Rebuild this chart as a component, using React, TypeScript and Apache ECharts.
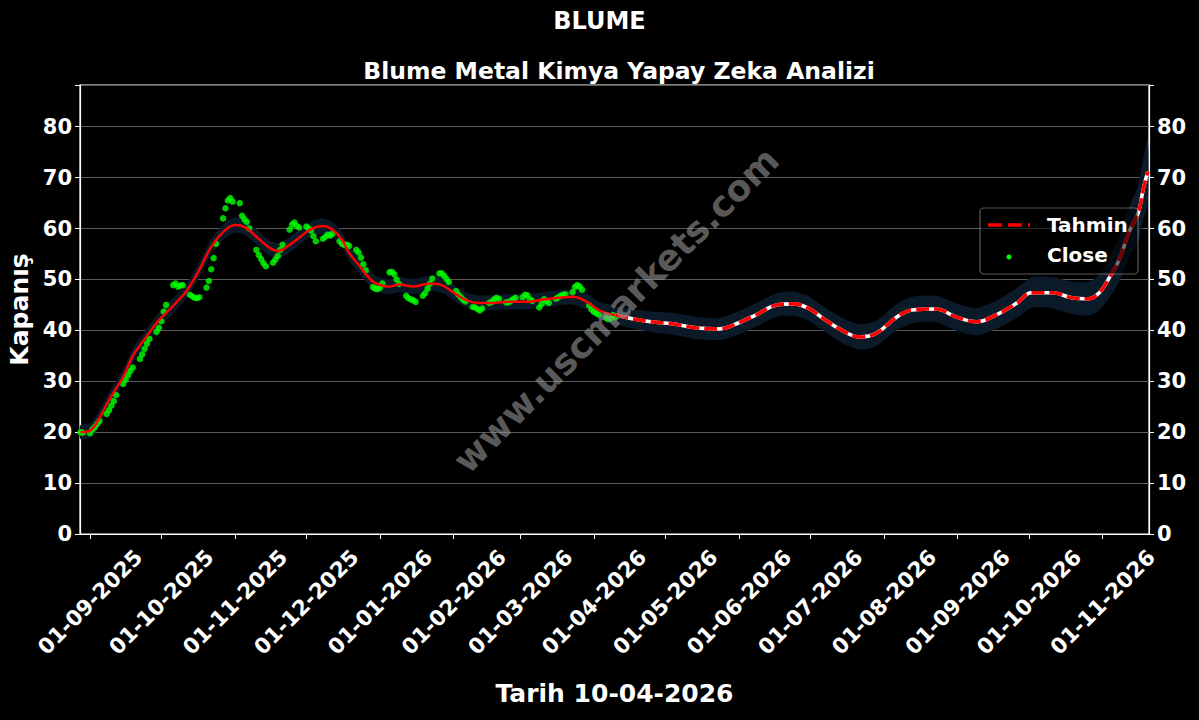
import React, { useEffect, useRef } from "react";
import * as echarts from "echarts";

// ---- data ----
const closeStart = "2025-08-28";
const closeEnd = "2026-04-10";
const closeValues = [
  // Aug 2025
  20.0, 19.9,
  // Sep
  19.8, 20.5, 21.0, 21.6, 22.2, 23.6, 24.3, 25.2, 26.1, 27.3, 29.5, 30.3, 31.2, 32.0, 32.7,
  34.4, 35.3, 36.4, 37.4, 38.3, 39.7, 40.5,
  // Oct
  41.8, 43.7, 45.0, 48.9, 49.2, 48.6, 48.8, 48.9, 47.0, 46.7, 46.4, 46.3, 46.5, 48.4, 49.7,
  52.0, 54.2, 57.0, 62.0, 64.0, 65.5, 66.0, 65.3,
  // Nov
  65.0, 62.5, 61.8, 61.3, 60.0, 55.8, 54.8, 54.0, 53.2, 52.6, 53.3, 53.9, 54.6, 55.8, 56.8,
  59.8, 60.8, 61.2, 60.5, 60.2,
  // Dec
  60.4, 60.0, 59.6, 58.5, 57.5, 58.0, 58.4, 58.8, 58.6, 59.0, 57.5, 57.0, 56.8, 56.8, 56.6,
  55.8, 55.3, 54.3, 53.0, 51.8, 48.5, 48.2, 48.1,
  // Jan 2026
  48.4, 49.2, 51.4, 51.5, 51.0, 50.0, 49.1, 46.8, 46.3, 46.1, 45.9, 45.6, 46.8, 47.3, 48.2,
  49.2, 50.2, 51.2, 51.2, 50.7, 50.1, 49.5,
  // Feb
  47.7, 47.0, 46.5, 46.0, 45.7, 44.6, 44.5, 44.2, 43.9, 44.3, 45.4, 45.6, 46.1, 46.4, 46.2,
  45.5, 45.5, 45.8, 46.1, 46.4,
  // Mar
  46.5, 47.0, 46.9, 46.1, 45.8, 44.5, 45.2, 46.1, 45.8, 45.4, 46.2, 46.5, 46.8, 47.0, 47.1,
  47.5, 48.5, 48.9, 48.6, 48.0, 44.9, 44.1,
  // Apr
  43.6, 43.4, 43.1, 42.5, 42.2, 42.4, 43.0, 42.6,
];

const predDates = [
  "2025-08-28", "2025-09-01", "2025-09-04", "2025-09-09", "2025-09-15", "2025-09-19",
  "2025-09-24", "2025-09-30", "2025-10-06", "2025-10-12", "2025-10-17", "2025-10-22",
  "2025-10-27", "2025-11-01", "2025-11-05", "2025-11-10", "2025-11-15", "2025-11-19",
  "2025-11-24", "2025-11-28", "2025-12-03", "2025-12-08", "2025-12-12", "2025-12-16",
  "2025-12-19", "2025-12-23", "2025-12-27", "2025-12-30", "2026-01-05", "2026-01-09",
  "2026-01-15", "2026-01-22", "2026-01-27", "2026-02-01", "2026-02-06", "2026-02-11",
  "2026-02-17", "2026-02-24", "2026-03-04", "2026-03-10", "2026-03-17", "2026-03-23",
  "2026-03-29", "2026-04-03", "2026-04-10",
  "2026-04-17", "2026-04-25", "2026-05-04", "2026-05-14", "2026-05-24", "2026-06-01",
  "2026-06-08", "2026-06-17", "2026-06-24", "2026-06-30", "2026-07-06", "2026-07-14",
  "2026-07-22", "2026-07-29", "2026-08-06", "2026-08-13", "2026-08-23", "2026-08-31",
  "2026-09-09", "2026-09-17", "2026-09-26", "2026-10-02", "2026-10-11", "2026-10-19",
  "2026-10-26", "2026-10-31", "2026-11-04", "2026-11-08", "2026-11-12", "2026-11-16",
  "2026-11-18", "2026-11-20",
];
const predValues = [
  20.0, 20.3, 22.0, 26.3, 30.9, 35.0, 38.3, 42.0, 44.8, 48.0, 51.9, 56.4,
  59.3, 60.7, 60.3, 58.4, 56.4, 55.6, 56.8, 58.2, 59.9, 60.5, 59.8, 57.8,
  55.2, 52.9, 50.5, 49.3, 48.6, 49.0, 48.6, 49.2, 48.9, 47.4, 46.0, 45.4,
  45.4, 45.6, 45.6, 46.0, 46.4, 46.6, 45.6, 44.0, 43.0,
  42.3, 41.7, 41.3, 40.5, 40.3, 41.5, 43.0, 45.0, 45.2, 44.4, 42.5, 40.1,
  38.7, 39.5, 42.5, 44.0, 44.2, 42.7, 41.7, 43.0, 45.4, 47.4, 47.4, 46.4,
  46.2, 47.6, 50.5, 53.9, 59.2, 63.1, 67.6, 71.2,
];
const bandHalf = [
  1.4, 1.4, 1.5, 1.5, 1.5, 1.5, 1.5, 1.5, 1.5, 1.5, 1.5, 1.5,
  1.5, 1.5, 1.5, 1.5, 1.5, 1.5, 1.5, 1.5, 1.5, 1.5, 1.5, 1.5,
  1.5, 1.5, 1.5, 1.5, 1.5, 1.5, 1.5, 1.5, 1.5, 1.5, 1.5, 1.5,
  1.5, 1.5, 1.5, 1.5, 1.5, 1.5, 1.6, 1.7, 1.8,
  1.9, 2.0, 2.1, 2.2, 2.2, 2.3, 2.3, 2.3, 2.4, 2.4, 2.4, 2.5,
  2.5, 2.5, 2.6, 2.6, 2.6, 2.7, 2.7, 2.8, 2.9, 3.0, 3.1, 3.2,
  3.3, 3.5, 3.9, 4.4, 4.9, 5.4, 5.9, 6.4,
];
const monthTicks = [
  "2025-09-01", "2025-10-01", "2025-11-01", "2025-12-01", "2026-01-01", "2026-02-01",
  "2026-03-01", "2026-04-01", "2026-05-01", "2026-06-01", "2026-07-01", "2026-08-01",
  "2026-09-01", "2026-10-01", "2026-11-01",
];
const yTicks = [0, 10, 20, 30, 40, 50, 60, 70, 80];

// ---- helpers ----
const DAY = 86400000;
function ts(s: string): number {
  const [y, m, d] = s.split("-").map(Number);
  return new Date(y, m - 1, d).getTime();
}
function weekdayList(start: string, end: string): number[] {
  const out: number[] = [];
  const e = ts(end);
  const [y, m, d] = start.split("-").map(Number);
  const cur = new Date(y, m - 1, d);
  while (cur.getTime() <= e) {
    const wd = cur.getDay();
    if (wd !== 0 && wd !== 6) out.push(cur.getTime());
    cur.setDate(cur.getDate() + 1);
  }
  return out;
}
function fmt(v: number): string {
  const d = new Date(v);
  const p = (n: number) => (n < 10 ? "0" + n : "" + n);
  return p(d.getDate()) + "-" + p(d.getMonth() + 1) + "-" + d.getFullYear();
}

const FONT = "DejaVu Sans";

export default function App() {
  const ref = useRef<HTMLDivElement>(null);
  useEffect(() => {
    if (!ref.current) return;
    const chart = echarts.init(ref.current, null, { renderer: "svg" });

    const closeDates = weekdayList(closeStart, closeEnd);
    const closeData = closeDates
      .map((t, i) => [t, closeValues[i]])
      .filter((p) => p[1] !== undefined);
    const predT = predDates.map(ts);
    const split = predDates.indexOf(closeEnd);
    const pastData = predT.slice(0, split + 1).map((t, i) => [t, predValues[i]]);
    const futData = predT.slice(split).map((t, i) => [t, predValues[split + i]]);
    const tickTs = monthTicks.map(ts);

    const yAxisBase = {
      type: "value",
      min: 0,
      max: 88.2,
      interval: 10,
      axisLine: { show: true, lineStyle: { color: "#ffffff", width: 1.2 } },
      axisTick: { show: true, length: 5, lineStyle: { color: "#ffffff" } },
      axisLabel: {
        color: "#ffffff",
        fontFamily: FONT,
        fontWeight: "bold",
        fontSize: 21,
        margin: 8,
        formatter: (v: number) =>
          yTicks.indexOf(Math.round(v * 1000) / 1000) >= 0 ? String(v) : "",
      },
    };

    const option = {
      animation: false,
      backgroundColor: "#000000",
      title: [
        {
          text: "BLUME",
          left: "center",
          top: 4,
          textStyle: { color: "#ffffff", fontFamily: FONT, fontWeight: "bold", fontSize: 24 },
        },
        {
          text: "Blume Metal Kimya Yapay Zeka Analizi",
          left: 614,
          top: 54,
          textAlign: "center",
          textStyle: { color: "#ffffff", fontFamily: FONT, fontWeight: "bold", fontSize: 23.5 },
        },
      ],
      grid: {
        left: 80,
        right: 50,
        top: 85,
        bottom: 186,
        outerBoundsMode: "none",
        containLabel: false,
        show: true,
        borderColor: "#ffffff",
        borderWidth: 1.2,
        backgroundColor: "transparent",
      },
      xAxis: {
        type: "value",
        min: ts("2025-08-28") - 0.2 * DAY,
        max: ts("2026-11-20") + 0.5 * DAY,
        name: "Tarih 10-04-2026",
        nameLocation: "middle",
        nameGap: 147,
        nameTextStyle: { color: "#ffffff", fontFamily: FONT, fontWeight: "bold", fontSize: 25 },
        axisLine: { show: true, lineStyle: { color: "#ffffff", width: 1.2 } },
        axisTick: { show: true, length: 5, lineStyle: { color: "#ffffff" }, customValues: tickTs },
        splitLine: { show: false },
        axisLabel: {
          customValues: tickTs,
          rotate: 45,
          align: "center",
          verticalAlign: "middle",
          color: "#ffffff",
          fontFamily: FONT,
          fontWeight: "bold",
          fontSize: 21.5,
          margin: 68,
          formatter: (v: number) => fmt(v),
        },
      },
      yAxis: [
        {
          ...yAxisBase,
          position: "left",
          name: "Kapanış",
          nameLocation: "middle",
          nameGap: 43,
          nameTextStyle: { color: "#ffffff", fontFamily: FONT, fontWeight: "bold", fontSize: 25 },
          splitLine: { show: true, lineStyle: { color: "#5a5a5a", width: 1 } },
        },
        {
          ...yAxisBase,
          position: "right",
          splitLine: { show: false },
        },
      ],
      series: [
        {
          type: "custom",
          name: "band",
          data: [[predT[0], predValues[0]]],
          encode: { x: 0, y: 1 },
          silent: true,
          z: 1,
          renderItem: (params: any, api: any) => {
            const upper = predT.map((t, i) => api.coord([t, predValues[i] + bandHalf[i]]));
            const lower = predT.map((t, i) => api.coord([t, predValues[i] - bandHalf[i]]));
            const pts = upper.concat(lower.reverse());
            return {
              type: "polygon",
              shape: { points: pts, smooth: 0.25 },
              style: { fill: "#0b1a29", stroke: "none" },
            };
          },
        },
        {
          type: "scatter",
          name: "Close",
          data: closeData,
          symbol: "circle",
          symbolSize: 6.5,
          itemStyle: { color: "#00ff00" },
          z: 3,
        },
        {
          type: "line",
          name: "TahminPast",
          data: pastData,
          smooth: 0.4,
          symbol: "none",
          lineStyle: { color: "#ff0000", width: 2.5 },
          z: 4,
        },
        {
          type: "line",
          name: "TahminWhite",
          data: futData,
          smooth: 0.4,
          symbol: "none",
          lineStyle: { color: "#ffffff", width: 3.6 },
          z: 4,
        },
        {
          type: "line",
          name: "Tahmin",
          data: futData,
          smooth: 0.4,
          symbol: "none",
          lineStyle: { color: "#ff0000", width: 3.6, type: [13, 5] },
          z: 5,
        },
      ],
      graphic: [
        {
          type: "text",
          x: 616,
          y: 310,
          rotation: Math.PI / 4,
          z: 50,
          style: {
            text: "www.uscmarkets.com",
            x: 0,
            y: 0,
            align: "center",
            verticalAlign: "middle",
            fill: "rgba(150,150,150,0.6)",
            font: `bold 36px "${FONT}"`,
          },
        },
        {
          type: "rect",
          z: 60,
          shape: { x: 980, y: 208, width: 158, height: 66, r: 4 },
          style: { fill: "rgba(0,0,0,0.55)", stroke: "rgba(200,200,200,0.45)", lineWidth: 1.2 },
        },
        {
          type: "line",
          z: 61,
          shape: { x1: 988, y1: 225, x2: 1030, y2: 225 },
          style: { stroke: "#ff0000", lineWidth: 3.6, lineDash: [14, 6] },
        },
        {
          type: "text",
          z: 61,
          style: {
            text: "Tahmin",
            x: 1047,
            y: 225,
            verticalAlign: "middle",
            fill: "#ffffff",
            font: `bold 20px "${FONT}"`,
          },
        },
        {
          type: "circle",
          z: 61,
          shape: { cx: 1009, cy: 257, r: 2.5 },
          style: { fill: "#00ff00" },
        },
        {
          type: "text",
          z: 61,
          style: {
            text: "Close",
            x: 1047,
            y: 255,
            verticalAlign: "middle",
            fill: "#ffffff",
            font: `bold 20px "${FONT}"`,
          },
        },
      ],
    };

    chart.setOption(option as any);
    return () => chart.dispose();
  }, []);

  return (
    <div
      ref={ref}
      style={{ width: 1199, height: 720, position: "absolute", left: 0, top: 0 }}
    />
  );
}
